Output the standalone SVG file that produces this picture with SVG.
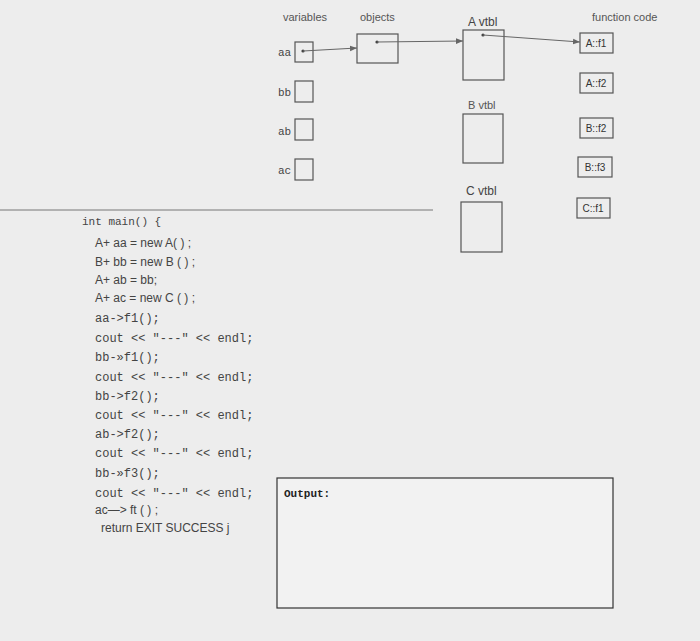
<svg xmlns="http://www.w3.org/2000/svg" width="700" height="641" viewBox="0 0 700 641">
<defs>
<marker id="ah" viewBox="0 0 10 10" refX="10" refY="5" markerWidth="7" markerHeight="7" orient="auto"><path d="M0,1 L10,5 L0,9 z" fill="#666"/></marker>
<style>
.b{fill:none;stroke:#555;stroke-width:1.2}
.s{font-family:"Liberation Sans",Arial,sans-serif;font-size:12px;fill:#444}
.h{font-family:"Liberation Sans",Arial,sans-serif;font-size:11px;fill:#555}
.m{font-family:"Liberation Mono",monospace;font-size:11px;fill:#444}
.m2{font-family:"Liberation Mono",monospace;font-size:12px;fill:#444}
.f{font-family:"Liberation Sans",Arial,sans-serif;font-size:10px;fill:#333;text-anchor:middle}
.c{stroke:#666;stroke-width:1;fill:none;marker-end:url(#ah)}
</style>
</defs>
<rect width="700" height="641" fill="#ededed"/>
<line x1="0" y1="210" x2="433" y2="210" stroke="#777" stroke-width="1"/>
<text class="h" x="283" y="21">variables</text>
<text class="h" x="360" y="21">objects</text>
<text class="s" x="468" y="26">A vtbl</text>
<text class="h" x="592" y="21">function code</text>
<g id="var-aa"><text class="m" x="278" y="56" font-size="9">aa</text><rect class="b" x="295" y="42" width="18" height="20"/><circle cx="303" cy="51" r="1.6" fill="#444"/></g>
<g id="var-bb"><text class="m" x="278" y="96" font-size="9">bb</text><rect class="b" x="295" y="81" width="18" height="21"/></g>
<g id="var-ab"><text class="m" x="278" y="135" font-size="9">ab</text><rect class="b" x="295" y="119" width="18" height="21"/></g>
<g id="var-ac"><text class="m" x="278" y="174" font-size="8">ac</text><rect class="b" x="295" y="159" width="18" height="21"/></g>
<g id="obj"><rect class="b" x="357" y="34" width="41" height="29"/><circle cx="377" cy="42" r="1.6" fill="#444"/></g>
<g id="avtbl"><rect class="b" x="463" y="30" width="41" height="50"/><circle cx="483" cy="35" r="1.6" fill="#444"/></g>
<g id="bvtbl"><text class="h" x="468" y="109">B vtbl</text><rect class="b" x="463" y="114" width="40" height="49"/></g>
<g id="cvtbl"><text class="s" x="466" y="195">C vtbl</text><rect class="b" x="461" y="202" width="41" height="50"/></g>
<g id="fAf1"><rect class="b" x="580" y="33" width="33" height="20"/><text class="f" x="596" y="47">A::f1</text></g>
<g id="fAf2"><rect class="b" x="580" y="73" width="33" height="20"/><text class="f" x="596" y="87">A::f2</text></g>
<g id="fBf2"><rect class="b" x="580" y="118" width="33" height="20" stroke-width="1.6"/><text class="f" x="596" y="132">B::f2</text></g>
<g id="fBf3"><rect class="b" x="578" y="157" width="34" height="20" stroke-width="1.6"/><text class="f" x="595" y="171">B::f3</text></g>
<g id="fCf1"><rect class="b" x="577" y="198" width="33" height="20" stroke-width="1.6"/><text class="f" x="593" y="212">C::f1</text></g>
<g id="connectors">
<line class="c" x1="303" y1="51" x2="357" y2="48"/>
<line class="c" x1="377" y1="42" x2="463" y2="41"/>
<line class="c" x1="483" y1="35" x2="580" y2="42"/>
</g>
<g id="code">
<text class="m" x="82" y="225">int main() {</text>
<text class="s" x="95" y="247">A+ aa = new A( ) ;</text>
<text class="s" x="95" y="266">B+ bb = new B ( ) ;</text>
<text class="s" x="95" y="284">A+ ab = bb;</text>
<text class="s" x="95" y="302">A+ ac = new C ( ) ;</text>
<text class="m2" x="95" y="322">aa-&gt;f1();</text>
<text class="m2" x="95" y="342">cout &lt;&lt; "---" &lt;&lt; endl;</text>
<text class="m2" x="95" y="361">bb-»f1();</text>
<text class="m2" x="95" y="381">cout &lt;&lt; "---" &lt;&lt; endl;</text>
<text class="m2" x="95" y="400">bb-&gt;f2();</text>
<text class="m2" x="95" y="419">cout &lt;&lt; "---" &lt;&lt; endl;</text>
<text class="m2" x="95" y="438">ab-&gt;f2();</text>
<text class="m2" x="95" y="457">cout &lt;&lt; "---" &lt;&lt; endl;</text>
<text class="m2" x="95" y="477">bb-»f3();</text>
<text class="m2" x="95" y="497">cout &lt;&lt; "---" &lt;&lt; endl;</text>
<text class="s" x="95" y="514">ac—&gt; ft ( ) ;</text>
<text class="s" x="101" y="532">return EXIT SUCCESS j</text>
</g>
<g id="output"><rect x="277" y="478" width="336" height="130" fill="#f2f2f2" stroke="#333" stroke-width="1.2"/><text x="284" y="497" font-family="Liberation Mono,monospace" font-size="11" font-weight="bold" fill="#222">Output:</text></g>
</svg>
